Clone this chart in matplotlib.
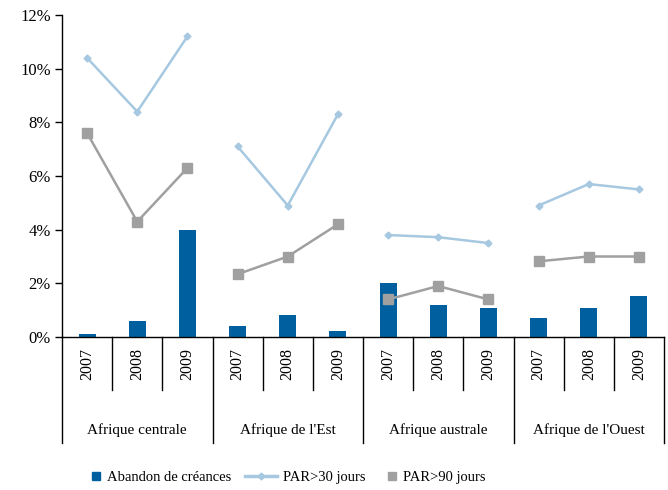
import matplotlib.pyplot as plt
import matplotlib.transforms as mtransforms
from matplotlib.lines import Line2D

plt.rcParams['font.family'] = 'Liberation Serif'

# donnees
regions = ["Afrique centrale", "Afrique de l'Est", "Afrique australe", "Afrique de l'Ouest"]
annees = ["2007", "2008", "2009"]
abandon = [0.1, 0.6, 4.0, 0.4, 0.82, 0.22, 2.0, 1.19, 1.08, 0.7, 1.08, 1.53]
par30 = [10.4, 8.4, 11.2, 7.1, 4.9, 8.3, 3.8, 3.72, 3.5, 4.9, 5.7, 5.5]
par90 = [7.6, 4.3, 6.3, 2.34, 3.0, 4.2, 1.4, 1.9, 1.4, 2.82, 3.0, 3.0]
noms = ["Abandon de créances", "PAR>30 jours", "PAR>90 jours"]

c_bar = '#00609f'
c_30 = '#a6c8e0'
c_90 = '#a0a0a0'

fig = plt.figure(figsize=(6.68, 4.90), dpi=100)
ax = fig.add_axes([62/668, (490-337)/490, (664-62)/668, 322/490])

x = list(range(len(abandon)))
ax.bar(x, abandon, width=0.34, color=c_bar, zorder=2)

# une ligne par region, pas de liaison entre regions
for g in range(len(regions)):
    xs = x[g*3:(g+1)*3]
    ax.plot(xs, par30[g*3:(g+1)*3], color=c_30, lw=1.8, marker='D', ms=3.5, zorder=3)
    ax.plot(xs, par90[g*3:(g+1)*3], color=c_90, lw=1.8, marker='s', ms=6.5, zorder=3)

ax.set_xlim(-0.5, 11.5)
ax.set_ylim(0, 12)
ax.set_yticks(range(0, 13, 2))
ax.set_yticklabels([str(v) + '%' for v in range(0, 13, 2)], fontsize=12)
ax.tick_params(axis='y', direction='out', length=5, width=1, pad=3)
ax.set_xticks([])
for s in ['top', 'right']:
    ax.spines[s].set_visible(False)
ax.spines['left'].set_linewidth(1)
ax.spines['bottom'].set_linewidth(1)

trans = mtransforms.blended_transform_factory(ax.transData, ax.transAxes)
for i in range(len(abandon) + 1):
    b = i - 0.5
    bas = -0.329 if i % 3 == 0 else -0.165
    ax.plot([b, b], [0, bas], color='black', lw=1, transform=trans, clip_on=False)

for i in x:
    ax.text(i, -0.083, annees[i % 3], rotation=90, ha='center', va='center',
            fontsize=11.5, transform=trans)
for g, r in enumerate(regions):
    ax.text(g*3 + 1, -0.29, r, ha='center', va='center', fontsize=11, transform=trans)

# legende en trois morceaux pour garder les bons espacements
handles = [
    Line2D([], [], color=c_bar, marker='s', ls='none', ms=6),
    Line2D([], [], color=c_30, marker='D', lw=2.5, ms=3.5),
    Line2D([], [], color=c_90, marker='s', ls='none', ms=6),
]
pos = [92, 245, 388]
longueurs = [0.6, 2.2, 0.6]
for h, n, px, hl in zip(handles, noms, pos, longueurs):
    fig.legend([h], [n], loc='center left', bbox_to_anchor=(px/668, (490-477)/490),
               frameon=False, fontsize=10.5, handlelength=hl, handletextpad=0.4,
               borderpad=0, borderaxespad=0)

fig.savefig('out.png', dpi=100)
